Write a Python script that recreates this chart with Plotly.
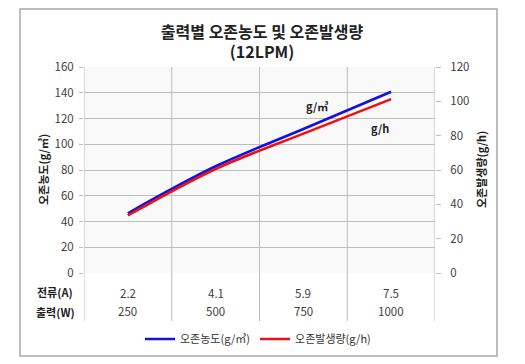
import plotly.graph_objects as go

categories = ["250", "500", "750", "1000"]
current_a = ["2.2", "4.1", "5.9", "7.5"]
power_w = ["250", "500", "750", "1000"]
ozone_conc = [46.4, 82.9, 111.8, 140.8]      # g/m3 (left axis)
ozone_gen = [33.5, 60.6, 81.2, 101.3]        # g/h (right axis)

FONT = "Noto Sans CJK KR"
W, H = 525, 364
L, R, T, B = 84, 435, 67, 273
pw, ph = R - L, B - T

def px(x):
    return (x - L) / pw

def py(y):
    return (B - y) / ph

xpos = list(range(len(categories)))
bounds = [i - 0.5 for i in range(len(categories) + 1)]

fig = go.Figure()
fig.add_trace(go.Scatter(x=xpos, y=ozone_conc, mode="lines", name="오존농도(g/㎥)",
                         line=dict(color="#1010e8", width=2.6, shape="spline", smoothing=1)))
fig.add_trace(go.Scatter(x=xpos, y=ozone_gen, mode="lines", name="오존발생량(g/h)",
                         yaxis="y2", line=dict(color="#ee1111", width=2.6, shape="spline", smoothing=1)))

grid = "#bdbdbd"
fig.update_layout(
    width=W, height=H,
    margin=dict(l=L, r=W - R, t=T, b=H - B),
    paper_bgcolor="white", plot_bgcolor="#f9f9f9",
    font=dict(family=FONT, size=11, color="#404040"),
    title=dict(text="<b>출력별 오존농도 및 오존발생량<br>(12LPM)</b>", x=262 / W, xanchor="center",
               y=1 - 37.5 / H, yanchor="middle", yref="container",
               font=dict(family=FONT, size=16, color="#222")),
    xaxis=dict(range=[-0.5, len(categories) - 0.5], tickvals=bounds, showticklabels=False,
               showgrid=False, ticks="", showline=False, zeroline=False, fixedrange=True),
    yaxis=dict(range=[0, 160], dtick=20, showgrid=True, gridcolor=grid, gridwidth=1,
               ticks="outside", ticklen=4, tickcolor=grid, zeroline=False, showline=False,
               tickfont=dict(size=11.5, color="#404040"), ticklabelstandoff=3),
    yaxis2=dict(range=[0, 120], dtick=20, overlaying="y", side="right", showgrid=False,
                ticks="outside", ticklen=5, tickcolor=grid, zeroline=False, showline=False,
                tickfont=dict(size=11.5, color="#404040"), ticklabelstandoff=7),
    legend=dict(orientation="h", x=258 / W, xanchor="center", xref="container",
                y=1 - 339 / H, yanchor="middle", yref="container",
                itemwidth=30, font=dict(size=11, color="#333"), bgcolor="rgba(0,0,0,0)"),
    showlegend=True,
)

# category boundary lines: through the plot and down through the table
for b in bounds:
    fig.add_shape(type="line", xref="x", yref="paper", x0=b, x1=b, layer="below",
                  y0=1, y1=py(321), line=dict(color=grid, width=1))

# outer border
fig.add_shape(type="rect", xref="paper", yref="paper", x0=px(20), x1=px(497),
              y0=py(356), y1=py(9), line=dict(color="#a8a8a8", width=1.5))

def note(x, y, text, xref="paper", size=11, color="#222", angle=0):
    fig.add_annotation(x=x, y=y, xref=xref, yref="paper", text=text, showarrow=False,
                       xanchor="center", yanchor="middle", textangle=angle,
                       font=dict(size=size, color=color))

# table rows
for i, (a, w) in enumerate(zip(current_a, power_w)):
    note(xpos[i], py(293), a, xref="x", size=11.5, color="#404040")
    note(xpos[i], py(311), w, xref="x", size=11.5, color="#404040")
note(px(55), py(292), "<b>전류(A)</b>")
note(px(55), py(312), "<b>출력(W)</b>")

# axis titles
note(px(43), py(170), "<b>오존농도(g/㎥)</b>", angle=-90)
note(px(481), py(170), "<b>오존발생량(g/h)</b>", angle=-90)

# series labels
note(px(317), py(106), "<b>g/㎥</b>")
note(px(380), py(128), "<b>g/h</b>")

fig.write_html("out.html", config={"displayModeBar": False},
               post_script="document.body.style.margin='0';document.body.style.padding='0';")
